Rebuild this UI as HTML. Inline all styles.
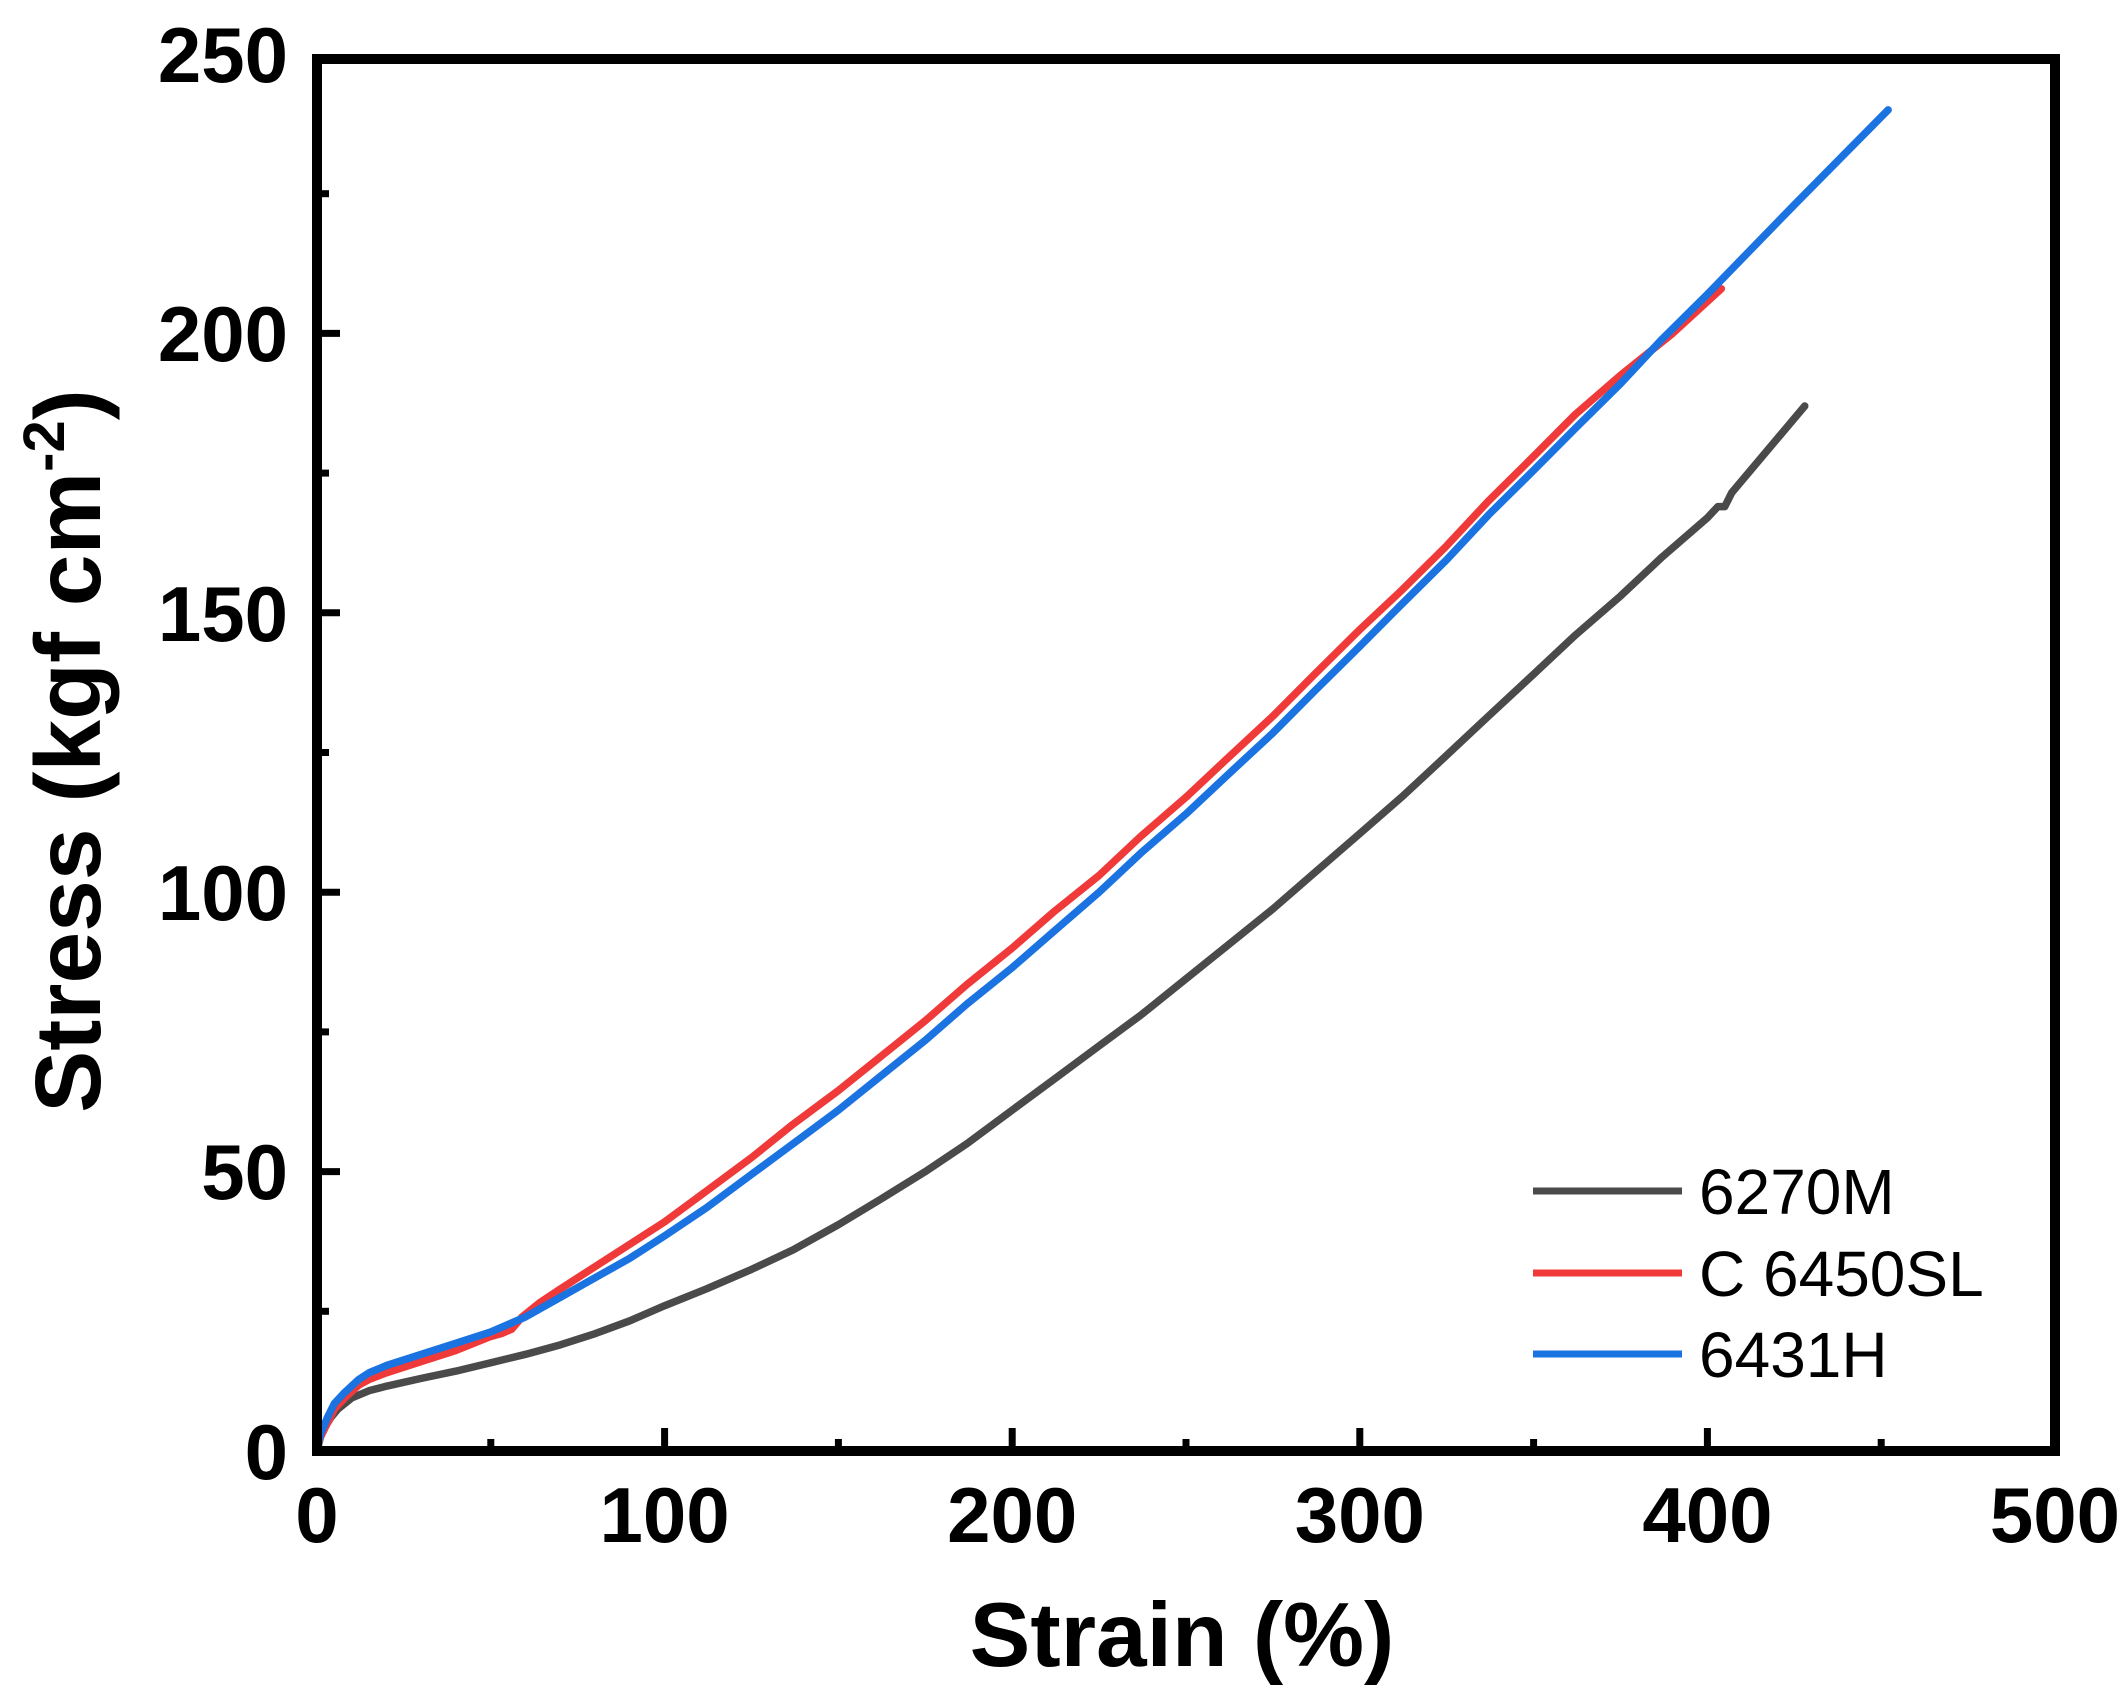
<!DOCTYPE html>
<html><head><meta charset="utf-8"><style>
html,body{margin:0;padding:0;background:#fff;}
svg{display:block;}
text{font-family:"Liberation Sans",Arial,sans-serif;}
</style></head><body>
<svg width="2123" height="1704" viewBox="0 0 2123 1704" xmlns="http://www.w3.org/2000/svg">
<rect width="2123" height="1704" fill="#fff"/>
<g transform="translate(317,1451) scale(3.476,-5.588)" fill="none" stroke-linejoin="round" stroke-linecap="round">
<polyline vector-effect="non-scaling-stroke" stroke="#4a4a4a" stroke-width="7.5" points="0,0 1,2.5 2,4 4,6 6,7.5 10,9.5 15,10.8 20,11.6 30,13 40,14.3 50,15.8 60,17.3 70,19 80,21 90,23.3 100,26 112,29 125,32.5 137,36 150,40.5 162,45 175,50 187,55 200,61 212,66.5 225,72.5 237,78 250,84.5 262,90.5 275,97 287,103.5 300,110.5 312,117 325,124.5 337,131.5 350,139 362,146 375,153 387,160 400,167 403,169 405,169 407,171.5 428,187"/>
<polyline vector-effect="non-scaling-stroke" stroke="#f03a3a" stroke-width="7.5" points="0,0 1,2.5 3,5 5,7.5 8,9.5 12,11.8 15,12.8 20,14 30,16 40,18 50,20.5 53,21 56,21.8 59,24 64,26.5 70,29 80,33 90,37 100,41 112,46.5 125,52.5 137,58.5 150,64.5 162,70.5 175,77 187,83.5 200,90 212,96.5 225,103 237,110 250,117 262,124 275,131.5 287,139 300,147 312,154 325,162 337,170 350,178 362,185.5 375,192.5 390,200 404,208"/>
<polyline vector-effect="non-scaling-stroke" stroke="#1a73e0" stroke-width="7.5" points="0,0 1,3 3,6 5,8.5 8,10.5 12,12.8 15,14 20,15.3 30,17.3 40,19.3 50,21.3 60,24 70,27.5 80,31 90,34.5 100,38.5 112,43.5 125,49.5 137,55 150,61 162,67 175,73.5 187,80 200,86.5 212,93 225,100 237,107 250,114 262,121 275,128.5 287,136 300,144 312,151.5 325,159.5 337,167.5 350,175.5 362,183 375,191 387,199 400,207 425,223 452,240"/>
</g>
<rect x="317" y="59" width="1738" height="1392" fill="none" stroke="#000" stroke-width="10"/>
<g stroke="#000" stroke-width="7">
<line x1="664.6" y1="1451" x2="664.6" y2="1428"/>
<line x1="1012.2" y1="1451" x2="1012.2" y2="1428"/>
<line x1="1359.8" y1="1451" x2="1359.8" y2="1428"/>
<line x1="1707.4" y1="1451" x2="1707.4" y2="1428"/>
<line x1="490.8" y1="1451" x2="490.8" y2="1439"/>
<line x1="838.4" y1="1451" x2="838.4" y2="1439"/>
<line x1="1186" y1="1451" x2="1186" y2="1439"/>
<line x1="1533.6" y1="1451" x2="1533.6" y2="1439"/>
<line x1="1881.2" y1="1451" x2="1881.2" y2="1439"/>
<line x1="317" y1="1171.6" x2="340" y2="1171.6"/>
<line x1="317" y1="892.2" x2="340" y2="892.2"/>
<line x1="317" y1="612.8" x2="340" y2="612.8"/>
<line x1="317" y1="333.4" x2="340" y2="333.4"/>
<line x1="317" y1="1311.3" x2="329" y2="1311.3"/>
<line x1="317" y1="1031.9" x2="329" y2="1031.9"/>
<line x1="317" y1="752.5" x2="329" y2="752.5"/>
<line x1="317" y1="473.1" x2="329" y2="473.1"/>
<line x1="317" y1="193.7" x2="329" y2="193.7"/>
</g>
<g font-size="78" font-weight="bold" fill="#000" text-anchor="middle">
<text x="317" y="1542">0</text>
<text x="664.6" y="1542">100</text>
<text x="1012.2" y="1542">200</text>
<text x="1359.8" y="1542">300</text>
<text x="1707.4" y="1542">400</text>
<text x="2055" y="1542">500</text>
</g>
<g font-size="78" font-weight="bold" fill="#000" text-anchor="end">
<text x="288" y="1479">0</text>
<text x="288" y="1199">50</text>
<text x="288" y="920">100</text>
<text x="288" y="641">150</text>
<text x="288" y="361">200</text>
<text x="288" y="82">250</text>
</g>
<text x="1182" y="1666" font-size="91" font-weight="bold" text-anchor="middle">Strain (%)</text>
<text transform="translate(100,751) rotate(-90)" font-size="93" font-weight="bold" text-anchor="middle">Stress (kgf cm<tspan font-size="58" dy="-36">-2</tspan><tspan dy="36">)</tspan></text>
<g stroke-width="7">
<line x1="1533" y1="1191" x2="1682" y2="1191" stroke="#4a4a4a"/>
<line x1="1533" y1="1273" x2="1682" y2="1273" stroke="#f03a3a"/>
<line x1="1533" y1="1354" x2="1682" y2="1354" stroke="#1a73e0"/>
</g>
<g font-size="64" fill="#000">
<text x="1699" y="1214">6270M</text>
<text x="1699" y="1296">C 6450SL</text>
<text x="1699" y="1377">6431H</text>
</g>
</svg>
</body></html>
